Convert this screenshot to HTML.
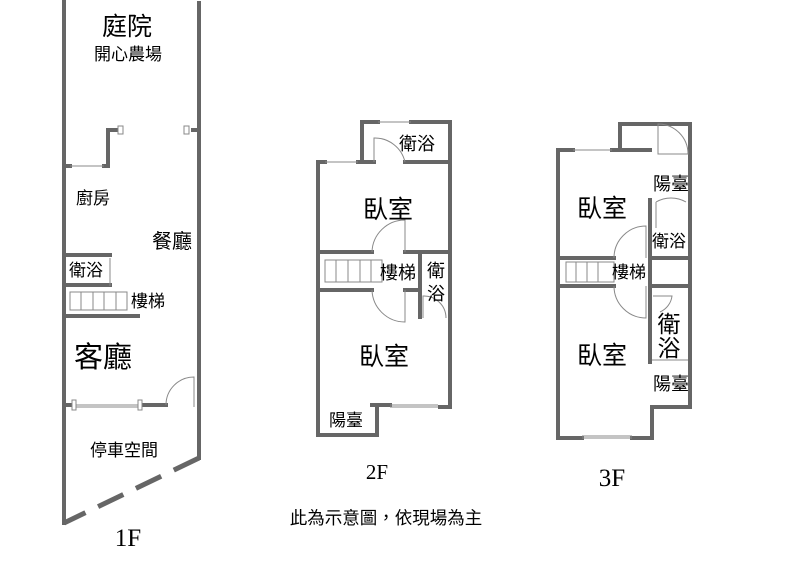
<!DOCTYPE html>
<html><head><meta charset="utf-8"><style>
html,body{margin:0;padding:0;background:#fff;}
svg{display:block;}
text{font-family:"Liberation Sans","Noto Sans CJK TC",sans-serif;fill:#000;}
.serif{font-family:"Liberation Serif","Noto Serif CJK SC",serif;}
</style></head><body>
<svg width="800" height="577" viewBox="0 0 800 577" xmlns="http://www.w3.org/2000/svg">
<g stroke="#666" stroke-width="4" fill="none" stroke-linecap="square">
<line x1="64" y1="0" x2="64" y2="523"/>
<line x1="199" y1="3" x2="199" y2="458"/>
<line x1="199" y1="458" x2="64" y2="523" stroke-dasharray="28,14" stroke-width="5" stroke-linecap="butt"/>
<polyline points="64,166 70,166"/>
<polyline points="104,166 108,166 108,130 118,130"/>
<line x1="193" y1="130" x2="199" y2="130"/>
<polyline points="64,255 110,255"/>
<polyline points="64,285 110,285"/>
<line x1="64" y1="316" x2="138" y2="316"/>
<line x1="64" y1="405" x2="72" y2="405"/>
<line x1="142" y1="405" x2="166" y2="405"/>
<polyline points="325,162 318,162 318,435 377,435 377,405 372,405"/>
<line x1="358" y1="162" x2="374" y2="162"/>
<polyline points="362,162 362,122 378,122"/>
<polyline points="411,122 450,122 450,407 440,407"/>
<line x1="405" y1="162" x2="450" y2="162"/>
<line x1="318" y1="252" x2="372" y2="252"/>
<line x1="405" y1="252" x2="450" y2="252"/>
<line x1="318" y1="290" x2="372" y2="290"/>
<line x1="405" y1="290" x2="418" y2="290"/>
<line x1="420" y1="252" x2="420" y2="317"/>
<line x1="372" y1="405" x2="390" y2="405"/>
<polyline points="573,150 558,150 558,438 582,438"/>
<line x1="612" y1="150" x2="620" y2="150"/>
<polyline points="620,150 620,124 658,124"/>
<polyline points="658,124 690,124 690,407 652,407 652,438 632,438"/>
<line x1="620" y1="150" x2="650" y2="150"/>
<line x1="650" y1="200" x2="650" y2="362"/>
<line x1="558" y1="258" x2="614" y2="258"/>
<line x1="558" y1="286" x2="614" y2="286"/>
<line x1="650" y1="258" x2="690" y2="258"/>
<line x1="650" y1="286" x2="690" y2="286"/>
</g>
<g stroke="#888" stroke-width="1" fill="#fff">
<line x1="70" y1="166" x2="104" y2="166"/>
<rect x="118" y="126" width="5" height="8"/><rect x="184" y="126" width="5" height="8"/>
<line x1="72" y1="405" x2="142" y2="405"/><line x1="72" y1="407" x2="142" y2="407"/>
<rect x="72" y="400" width="4" height="10"/><rect x="138" y="400" width="4" height="10"/>
<path d="M166 405 A28 28 0 0 1 194 377 L194 407" fill="none"/>
<path d="M110 258 L110 286" fill="none"/>
<g fill="none"><rect x="70" y="292" width="57" height="18"/>
<line x1="81" y1="292" x2="81" y2="310"/><line x1="93" y1="292" x2="93" y2="310"/><line x1="104" y1="292" x2="104" y2="310"/><line x1="116" y1="292" x2="116" y2="310"/></g>
<line x1="325" y1="162" x2="358" y2="162"/><line x1="378" y1="122" x2="411" y2="122"/>
<path d="M374 162 L374 138 A31 31 0 0 1 405 162" fill="none"/>
<path d="M372 252 A33 33 0 0 1 405 220 L405 252" fill="none"/>
<path d="M372 290 A33 33 0 0 0 405 322 L405 290" fill="none"/>
<g fill="none"><rect x="325" y="260" width="57" height="22"/>
<line x1="336" y1="260" x2="336" y2="282"/><line x1="348" y1="260" x2="348" y2="282"/><line x1="360" y1="260" x2="360" y2="282"/><line x1="371" y1="260" x2="371" y2="282"/></g>
<path d="M423 318 L423 296 A22 22 0 0 1 446 318" fill="none"/>
<line x1="390" y1="405" x2="438" y2="405"/><line x1="390" y1="407" x2="438" y2="407"/>
<line x1="573" y1="150" x2="612" y2="150"/>
<line x1="582" y1="438" x2="632" y2="438"/><line x1="582" y1="436" x2="632" y2="436"/>
<path d="M658 124 A30 30 0 0 1 688 154 L658 154 Z" fill="none"/>
<path d="M656 202 L656 228 M656 202 A30 30 0 0 1 686 202" fill="none"/>
<path d="M614 258 A32 32 0 0 1 646 226 L646 258" fill="none"/>
<path d="M614 286 A32 32 0 0 0 646 318 L646 286" fill="none"/>
<path d="M653 296 L672 296 A20 20 0 0 1 660 312" fill="none"/>
<g fill="none"><rect x="566" y="262" width="48" height="20"/>
<line x1="576" y1="262" x2="576" y2="282"/><line x1="587" y1="262" x2="587" y2="282"/><line x1="598" y1="262" x2="598" y2="282"/></g>
<line x1="652" y1="360" x2="688" y2="360"/>
</g>
<g text-anchor="middle">
<text x="127" y="35" font-size="25">庭院</text>
<text x="128" y="60" font-size="17">開心農場</text>
<text x="93" y="204" font-size="17">廚房</text>
<text x="172" y="248" font-size="20">餐廳</text>
<text x="86" y="276" font-size="17">衛浴</text>
<text x="148" y="307" font-size="17">樓梯</text>
<text x="103" y="367" font-size="29">客廳</text>
<text x="124" y="456" font-size="17">停車空間</text>
<text x="128" y="546" font-size="25" class="serif">1F</text>
<text x="417" y="150" font-size="18">衛浴</text>
<text x="388" y="218" font-size="25">臥室</text>
<text x="398" y="279" font-size="18">樓梯</text>
<text x="436" y="277" font-size="18">衛</text>
<text x="436" y="300" font-size="18">浴</text>
<text x="384" y="365" font-size="25">臥室</text>
<text x="346" y="426" font-size="17">陽臺</text>
<text x="377" y="479" font-size="21" class="serif">2F</text>
<text x="671" y="190" font-size="18">陽臺</text>
<text x="602" y="217" font-size="25">臥室</text>
<text x="669" y="247" font-size="17">衛浴</text>
<text x="629" y="278" font-size="17">樓梯</text>
<text x="669" y="332" font-size="23">衛</text>
<text x="669" y="356" font-size="23">浴</text>
<text x="602" y="364" font-size="25">臥室</text>
<text x="671" y="390" font-size="18">陽臺</text>
<text x="612" y="486" font-size="25" class="serif">3F</text>
<text x="386" y="524" font-size="17.5">此為示意圖，依現場為主</text>
</g>
</svg>
</body></html>
